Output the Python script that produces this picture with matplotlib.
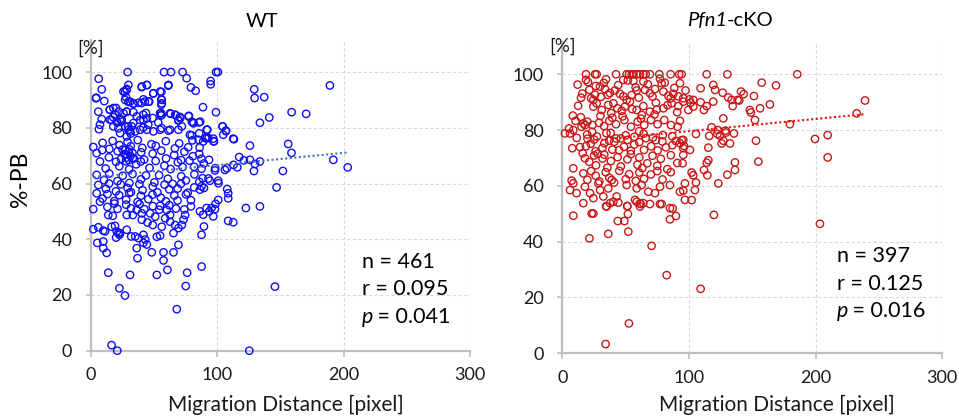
import matplotlib
matplotlib.use("Agg")
import matplotlib.pyplot as plt
import numpy as np

plt.rcParams['font.family'] = ['Lato', 'DejaVu Sans']

# ---- data (migration distance [pixel], %-PB) ----
wt_x = [
    # top region
    6.1, 29, 57.8, 63.3, 72.5, 75.7, 99, 100.5, 94.7, 94.7, 8.5, 4.2, 10.5, 28.2, 26.9,
    27.7, 29.5, 40.1, 44.3, 49.3, 55.7, 55.7, 55.7, 61.2, 79.1, 82.8, 88.6, 98.9, 129.2, 129.5,
    137.1, 189.1, 158.8, 170.3, 133.7, 141.1,
    5.8, 8.5, 7.1, 6.3, 14.8, 19.8, 21.9, 17.6, 15, 24.3, 20.8, 28.2, 33.5, 33.5, 33.5,
    29.5, 30.9, 36.2, 40.1, 42.7, 46.1, 41.4, 43.5, 48.8, 41.4, 45.3,
    55.4, 55.4, 63.1, 67, 70.4, 69.1, 77.5, 80.9, 85.4, 53.2, 55.9, 61.2, 91.8, 104.2, 106.8,
    112.6, 78.3, 79.7, 85.7, 91.5, 96.8,
    3.9, 15, 17.7, 19, 16.3, 20.4, 23, 24.3, 25.7, 28.3, 17.7, 21.7, 27, 23, 29.6,
    32.3, 28.3, 31.4, 35, 38.9, 41.5, 44.2,
    25.7, 28.3, 29.6, 27, 30.9, 33.6, 37.6, 41.5, 45.5, 40.2, 44.2, 49.4, 54.7, 56, 56, 61.3,
    38.9, 44.2, 49.4, 54.7, 54.7, 56, 62.6, 66.6, 69.2, 70.6, 62.6, 69.2, 71.9, 77.2, 79.8,
    81.1, 86.4, 91.7, 90.4, 85.1, 93, 97,
    # right side
    104.1, 106.8, 104.7, 92, 91.5, 88.8, 97.3, 113.1, 125.8, 156.1, 158.7, 117.3, 121, 125.8,
    133.7, 129.8, 115.8, 129, 151.9, 191.8, 203.2,
    87.5, 87.5, 98.1, 106, 88.3, 94.1, 100.7, 87.5, 89.4, 86.2, 146.9, 107.8, 108.6, 108.6,
    100.7, 98.6, 95.4, 91.5, 98.1, 96.8, 93.6, 122.6, 133.7, 86.2, 88.8, 89.4, 87.5, 108.6,
    112.6, 87.5, 145.6, 125.3,
    # dense middle
    1.8, 9.2, 14.5, 17.1, 22.6, 25.0, 28.9, 31.5, 37.0, 40.6, 47.9, 51.3, 59.2, 66.4, 69.8,
    76.9, 80.3, 86.0,
    4.5, 8.9, 14.2, 21.1, 23.8, 27.6, 30.3, 33.0, 39.7, 42.1, 48.8, 55.6, 59.4, 65.8, 71.3,
    73.9, 80.6, 85.7, 93.4,
    26.5, 28.1, 29.7, 31.2, 32.8, 30.0, 27.3, 33.9,
    7.1, 11.6, 19.8, 22.4, 27.7, 30.2, 35.8, 39.4, 46.3, 51.2, 58.1, 63.0, 68.7, 72.5, 78.0,
    81.6, 89.3, 98.3, 107.5, 112.8,
    4.5, 10.3, 14.4, 21.0, 25.1, 30.4, 32.9, 39.6, 43.5, 50.2, 53.9, 60.8, 64.6, 71.4, 75.1,
    81.8, 85.7, 93.0, 100.9,
    5.8, 11.8, 14.3, 19.7, 23.5, 29.0, 31.6, 38.3, 40.8, 48.9, 52.6, 58.2, 61.9, 68.6, 71.2,
    76.5, 81.7,
    4.5, 9.1, 13.0, 18.4, 22.3, 27.8, 30.2, 36.9, 39.5, 45.4, 48.7, 55.3, 59.3, 66.0, 68.5,
    75.2, 79.1,
    7.1, 13.0, 18.5, 21.0, 27.8, 31.6, 38.4, 42.2, 48.9, 54.0, 62.0, 67.2, 73.9, 79.1,
    # lower part
    1.8, 1.8, 5.8, 9.7, 11.1, 5.0, 9.7, 9.7, 12.4, 13.7, 17.2, 16.3, 19.0, 20.4, 21.7,
    23.0, 19.9, 22.5, 13.7, 22.5, 26.9, 30.9, 16.3, 20.8,
    28.3, 31.8, 35, 37.6, 36.2, 36.8, 28.3, 33.1, 40.2, 40.2, 41.5, 42.9, 41.5, 44.2, 44.7,
    48.9, 48.1, 52.1, 52.1, 54.7, 56, 57.4, 57.4, 60.5,
    54.7, 60, 62.6, 65.3, 69.2, 69.2, 73.2, 74.5, 65.3, 67.9, 76.1, 75,
    36.2, 46.8, 50.8, 58.7, 62.6, 71.9, 66.6,
]
wt_y = [
    97.6, 100, 100, 100, 100, 97.8, 100, 100, 96.8, 95.6, 93.8, 90.8, 89.6, 93.6, 92.9,
    91, 89.3, 94.6, 95.3, 92.3, 92.9, 90.2, 88.3, 95.1, 94.5, 93.3, 87.4, 85.6, 93.8, 90.7,
    91, 95.2, 85.6, 85, 81.8, 83.7,
    85.8, 83.1, 81.1, 79.5, 86.5, 87.1, 85.8, 83.8, 82.9, 82.9, 81.9, 85.8, 88.6, 85.6, 81.7,
    80.5, 78.7, 84.1, 88.9, 89.4, 89.4, 84.7, 85.3, 83.5, 80.1, 81.1,
    85.3, 84.4, 85, 84.5, 83.9, 82.6, 84.3, 81.9, 81.9, 81.9, 79.9, 79, 79.3, 80.5, 78.8,
    76.1, 77.5, 77.3, 78, 76.6, 76.1,
    90.6, 86.5, 87.1, 84.7, 82.8, 82.2, 83.1, 82.2, 85.2, 85.8, 80.5, 79.8, 80.5, 78.1, 79.3,
    80.5, 76.9, 77.9, 78.7, 82.8, 82.8, 83.4,
    93, 93.9, 95.4, 90, 89.4, 88.8, 89, 90.2, 89.4, 94.8, 95.4, 92.4, 93, 90, 88.8, 95.4,
    79.3, 79.3, 78.7, 79.3, 85.2, 84.7, 85.2, 84.7, 82.8, 83.4, 79.3, 79.3, 80.5, 84.1, 82.2,
    81.6, 82.2, 79.3, 76.3, 75.7, 76.3, 75.1,
    80.5, 79, 77.5, 79.3, 76.3, 75.1, 75.2, 75.9, 73.6, 74.2, 71, 69.5, 68.3, 68.5,
    67.9, 67, 65.8, 64.5, 64.5, 68.5, 65.8,
    68.9, 65.3, 64.7, 64.9, 61.9, 61, 61, 59, 58.4, 57.8, 58.6, 58, 56.5, 54.7,
    54.1, 52.7, 51.2, 51.2, 50.8, 48.2, 50, 51.2, 51.8, 50, 48.8, 44.6, 41.6, 46.6,
    46.1, 30.2, 23, 0,
    73.1, 74.6, 72.4, 75.3, 73.8, 72.2, 74.9, 73.4, 75.6, 72.8, 74.1, 73.5, 75.2, 72.6, 74.4,
    73.0, 75.5, 72.9,
    70.9, 72.0, 69.4, 71.6, 68.8, 70.5, 72.2, 69.1, 71.2, 68.6, 70.7, 71.8, 69.0, 70.2, 68.4,
    71.4, 69.8, 70.6, 68.5,
    70.6, 69.3, 71.4, 69.9, 71.0, 68.4, 72.1, 69.0,
    67.9, 65.4, 67.8, 66.2, 68.0, 65.1, 66.9, 67.9, 65.6, 68.1, 66.4, 65.2, 67.6, 65.9, 68.2,
    66.0, 67.2, 65.5, 65.5, 66.7,
    63.1, 61.2, 63.6, 60.9, 62.8, 60.2, 63.4, 61.5, 62.9, 60.4, 63.0, 61.7, 59.9, 62.6, 61.1,
    63.3, 60.6, 61.8, 60.1,
    59.5, 58.1, 60.0, 57.2, 59.7, 58.4, 56.9, 59.8, 57.6, 58.9, 56.8, 59.6, 57.9, 58.2, 59.9,
    56.7, 58.6,
    56.5, 54.6, 56.2, 53.7, 55.8, 54.2, 56.6, 53.4, 55.6, 54.4, 56.0, 54.9, 53.6, 55.7, 53.9,
    56.1, 54.0,
    53.5, 51.6, 52.8, 50.9, 52.4, 51.1, 52.6, 50.8, 51.9, 50.6, 52.2, 51.0, 50.7, 51.8,
    50.8, 43.6, 44.3, 43.1, 42.8, 38.7, 39.2, 36.8, 35.1, 48.7, 48.4, 44.5, 44.8, 42.8, 42.2,
    42.2, 40.6, 41.6, 28.0, 22.4, 19.8, 27.2, 2.0, 0,
    43.4, 41, 41, 40.4, 36.8, 33.2, 48.7, 48.7, 49.3, 47, 41.6, 39.9, 38.7, 38.1, 46,
    45.1, 35.3, 27.2, 40.9, 41.3, 44.5, 35.3, 32.4, 29,
    52, 50.5, 48.7, 42.2, 44, 38, 47, 48.7, 35.3, 14.9, 28, 23.2,
    50.5, 49.3, 48.1, 47.5, 46.3, 45.1, 45.1,
]

ko_x = [
    # y = 100 row
    18.7, 25.8, 27.1, 42.4, 50.8, 52.7, 54.8, 56.1, 58.7, 61.3, 64, 65.8, 69.2, 76.6, 85.5,
    92.3, 94.2, 114, 130.3, 185.5,
    18.7, 34.5, 48.2, 56.1, 64, 77.1, 78.4, 92.9, 119.2, 120.6, 126.6, 109.2, 141.1, 143.2,
    157.4, 168.7, 133.7, 134.5, 138.4,
    21.4, 25.8, 24.5, 29.8, 33.7, 37.6, 41.6, 45.5, 48.2, 50.8, 54.8, 58.7, 65.3, 69.2, 73.2,
    79.8, 83.7, 87.6, 91.6, 95.5, 100.3, 101.3, 85.5,
    24.5, 27.1, 31.1, 36.3, 40.3, 43.5, 49.5, 53.4, 58.7, 64, 69.2, 73.9, 79.8, 86.3, 91.6,
    95.5, 99.5, 103.4, 103.4,
    109.2, 111.8, 114, 119.2, 127.1, 131, 139.7, 148.1, 148.9, 152.1, 156.1, 163.9, 239,
    232.4, 179.7, 151.3,
    2.1, 5.3, 10.5, 15.2, 19.8, 23.8, 29, 33, 37.1, 42.4, 49, 54.2, 59.5, 64.7, 70,
    75.2, 80.5, 85.8, 91, 92.9, 105.5, 116, 122.6, 129.2, 16.6, 17.9, 128.9, 135.5,
    12.5, 8.3, 14.8,
    12.1, 15.8, 20.3, 22.7, 26.4, 30.5, 32.8, 35.9, 38.6, 44.1, 46.9, 51.7, 55.2, 57.9, 60.4,
    62.8, 67.5, 71.2, 74.6, 80.9, 83.1, 88.4, 90.7, 97.3, 14.6, 30.1, 39.5, 47.6, 62.1, 72.8,
    11.4, 19.6, 27.3, 34.8, 42.6, 50.1, 56.9, 64.2, 71.5, 79.3, 86.8, 23.5, 38.2, 60.7,
    # middle
    8.7, 6.1, 7.9, 14.0, 18.6, 16.1, 19.9, 22.4, 25.1, 26.3, 28.0, 31.7, 33.2, 36.9, 39.5,
    41.0, 44.8, 46.2, 48.7, 51.5, 54.1, 56.8, 60.7, 64.5, 66.0, 70.1, 73.8, 75.3, 79.0, 81.8,
    86.9, 89.6, 94.2, 95.5,
    8.7, 17.9, 21.3, 25.1, 26.6, 31.8, 33.1, 35.6, 38.4, 43.7, 46.2, 51.4, 54.1, 59.3, 60.8,
    63.2, 67.1, 71.2, 75.0, 77.8, 82.9, 85.7, 90.8,
    7.4, 16.6, 19.8, 22.7, 26.4, 29.2, 34.3, 37.1, 40.9, 45.0, 50.1, 52.8, 58.0, 60.7, 64.5,
    69.9, 75.0, 79.1, 85.6,
    6.1, 8.7, 11.3, 17.9, 21.9, 28.5, 29.8, 32.4, 36.3, 37.7, 42.9, 39, 50.8, 58.7, 57.4,
    62.6, 63.9, 67.9, 73.2, 77.1, 85, 92.9, 85, 77.1, 69.2, 61.3, 51.3, 44.2, 35, 24.5, 16.6,
    # lower part
    8.7, 23.2, 24.5, 34.5, 40.3, 51.3, 58.7, 61.3, 61.8, 78.4, 87.1, 89.7, 85, 51.8, 43.8,
    49, 21.4, 36.3, 52.1, 70.5, 82.4, 52.6, 34.2,
    # right side
    92.9, 95.5, 96.1, 100.8, 95.5, 95, 102.1, 96.8, 95.5, 105.5, 104.7, 96.8, 102.1, 103.4,
    111.9, 114.5, 115.3, 115.3, 114, 117.9, 124.5, 122.4, 127.1, 125.8, 132.4, 136.3, 136.3,
    130.3, 123.2, 154.8, 152.9, 199.5, 209.5, 209.5, 119.7, 203.4, 109.2,
]
ko_y = [
    100, 100, 100, 100, 100, 100, 100, 100, 100, 100, 100, 100, 100, 100, 100,
    100, 100, 100, 100, 100,
    98, 98.2, 98, 97.6, 97.4, 98.4, 96.8, 96.8, 96.2, 94.4, 93.4, 95, 93.8, 92.9,
    97, 96, 90.8, 88.6, 90.8,
    94.4, 92.7, 90.8, 95.6, 94.7, 93.3, 94.2, 93, 92.1, 90.8, 92.6, 94.2, 94.4, 93.2, 94.7,
    93.8, 92.3, 93, 92.1, 91.4, 91, 89.8, 91.4,
    88.4, 89.6, 87.2, 89, 89.6, 87.8, 88.4, 90.2, 87.2, 88.6, 86.6, 89.8, 87.8, 89.6, 88.6,
    90.2, 87.2, 90.8, 88.4,
    90, 87.2, 88.6, 90.2, 84.2, 91.7, 90.6, 87.2, 86.3, 83.6, 87.8, 89.2, 90.6,
    86, 82.1, 92.2,
    78.8, 80.6, 83.3, 81.2, 83, 81.8, 82.6, 81.4, 83.3, 82.1, 83.6, 81.2, 83, 81.8, 83.6,
    82.1, 83.6, 81.8, 81.2, 83.3, 78.6, 77.9, 80, 79.1, 82.4, 81.8, 79.8, 78.8,
    88.7, 85.2, 91.6,
    96.3, 93.1, 97.2, 91.4, 95.8, 91.9, 96.9, 92.6, 86.1, 96.1, 86.9, 97.8, 87.5, 95.3, 91.6,
    85.4, 96.4, 92.0, 87.3, 97.0, 88.9, 95.1, 86.4, 94.2, 84.6, 85.1, 84.4, 84.9, 84.1, 85.6,
    77.2, 78.4, 77.7, 78.9, 77.0, 78.1, 77.6, 78.7, 77.3, 78.2, 77.8, 79.4, 79.0, 79.6,
    80.0, 78.8, 73.5, 73.9, 74.2, 71.7, 76.9, 75.1, 76.6, 72.4, 71.5, 73.6, 75.3, 76.2, 73.0,
    75.8, 72.8, 77.0, 74.0, 76.5, 72.6, 74.8, 75.7, 72.9, 77.1, 74.2, 76.4, 72.7, 75.9, 73.8,
    74.6, 76.1, 76.4, 73.5,
    66.3, 69.9, 68.6, 70.9, 67.4, 69.8, 71.2, 66.5, 68.9, 70.3, 67.0, 69.5, 71.4, 67.6, 70.2,
    66.4, 68.1, 70.8, 67.2, 69.7, 66.0, 71.0, 68.2,
    61.9, 64.5, 62.2, 65.3, 63.6, 61.6, 64.9, 62.9, 61.2, 65.4, 62.4, 64.2, 61.8, 64.8, 62.5,
    64.1, 65.3, 62.3, 64.9,
    58.5, 60.9, 57.4, 59.7, 57.4, 60.9, 58.5, 56.2, 59.1, 53.8, 56.2, 62.1, 60.3, 59.1, 55,
    60.3, 53.8, 57.9, 57.4, 59.7, 60.3, 57.9, 52, 53.5, 53.5, 52.6, 52.8, 54, 52.6, 55.6, 53.8,
    49.3, 50.1, 50.1, 52.7, 54.3, 52.7, 54.3, 53.7, 53.5, 53.5, 51.9, 49.2, 48, 49.9, 47.4,
    47.4, 41.2, 42.8, 43.6, 38.5, 28, 10.7, 3.3,
    75.3, 76.5, 74.3, 72.9, 71.1, 68.1, 64.8, 60.9, 58.3, 61.2, 58.5, 55, 54.9, 63.8,
    65.7, 63.8, 69.2, 73.7, 68.3, 81, 78, 78.6, 76.2, 75.2, 75.2, 68.4, 65.7,
    64, 60.9, 68.7, 76.2, 76.8, 78.2, 70.2, 49.6, 46.4, 23.1,
]

# linear trend lines: (slope, intercept, x start, x end)
wt_trend = (0.044, 62.2, 2, 204)
ko_trend = (0.044, 75.2, 20, 238)

stats_wt = ["n = 461", "r = 0.095", " = 0.041"]
stats_ko = ["n = 397", "r = 0.125", " = 0.016"]

W, H = 959, 417
fig = plt.figure(figsize=(W / 100, H / 100), dpi=100)


def fx(px):
    return px / W


def fy(py):
    return 1 - py / H


def make_panel(rect, xs, ys, color, trend, trend_color):
    ax = fig.add_axes(rect)
    ax.scatter(xs, ys, s=28, facecolors='none', edgecolors=color, linewidths=1.0,
               clip_on=False, zorder=3)
    m, b, x0, x1 = trend
    tx = np.array([x0, x1])
    ax.plot(tx, m * tx + b, linestyle=(0, (1, 1.2)), color=trend_color, lw=1.5, zorder=4)
    ax.set_xlim(0, 300)
    ax.set_ylim(0, 111.5)
    ax.set_xticks([0, 100, 200, 300])
    ax.set_yticks([0, 20, 40, 60, 80, 100])
    ax.grid(True, color='#D9D9D9', linestyle=(0, (3, 2)), lw=0.8)
    ax.set_axisbelow(True)
    for s in ['top', 'right']:
        ax.spines[s].set_visible(False)
    for s in ['left', 'bottom']:
        ax.spines[s].set_color('#BFBFBF')
        ax.spines[s].set_linewidth(1.6)
    ax.tick_params(axis='x', length=4, width=1.2, color='#BFBFBF', pad=8,
                   labelsize=13, labelcolor='#1a1a1a')
    ax.tick_params(axis='y', length=3.5, width=1.2, color='#BFBFBF', pad=10,
                   labelsize=13, labelcolor='#1a1a1a')
    return ax


ax1 = make_panel([fx(91), 0.159, fx(470) - fx(91), 0.745], wt_x, wt_y,
                 '#1010F0', wt_trend, '#4A72C0')
ax2 = make_panel([fx(562.3), 0.1528, fx(942.3) - fx(562.3), 0.746], ko_x, ko_y,
                 '#C81818', ko_trend, '#F01010')

# titles
fig.text(fx(262), fy(26.7), "WT", ha='center', va='baseline', fontsize=14.5)
fig.text(fx(727), fy(26), "Pfn1", ha='right', va='baseline', fontsize=14.5, style='italic')
fig.text(fx(727), fy(26), "-cKO", ha='left', va='baseline', fontsize=14.5)

# unit labels
fig.text(fx(91), fy(48), "[%]", ha='center', va='center', fontsize=13.5, color='#1a1a1a')
fig.text(fx(563), fy(46), "[%]", ha='center', va='center', fontsize=13.5, color='#1a1a1a')

# axis labels
fig.text(fx(21), fy(179), "%-PB", ha='center', va='center', rotation=90, fontsize=16.5)
fig.text(fx(285.7), fy(411), "Migration Distance [pixel]", ha='center', va='baseline',
         fontsize=15, color='#1a1a1a')
fig.text(fx(776.7), fy(411), "Migration Distance [pixel]", ha='center', va='baseline',
         fontsize=15, color='#1a1a1a')

# statistics
for left, bases, lines in [(362, (268.3, 295, 323.3), stats_wt),
                           (836.7, (261.7, 290, 317.3), stats_ko)]:
    fig.text(fx(left), fy(bases[0]), lines[0], ha='left', va='baseline', fontsize=15.5)
    fig.text(fx(left), fy(bases[1]), lines[1], ha='left', va='baseline', fontsize=15.5)
    fig.text(fx(left), fy(bases[2]), "p", ha='left', va='baseline', fontsize=15.5,
             style='italic')
    fig.text(fx(left + 10), fy(bases[2]), lines[2], ha='left', va='baseline', fontsize=15.5)

fig.savefig("out.png", dpi=100)
